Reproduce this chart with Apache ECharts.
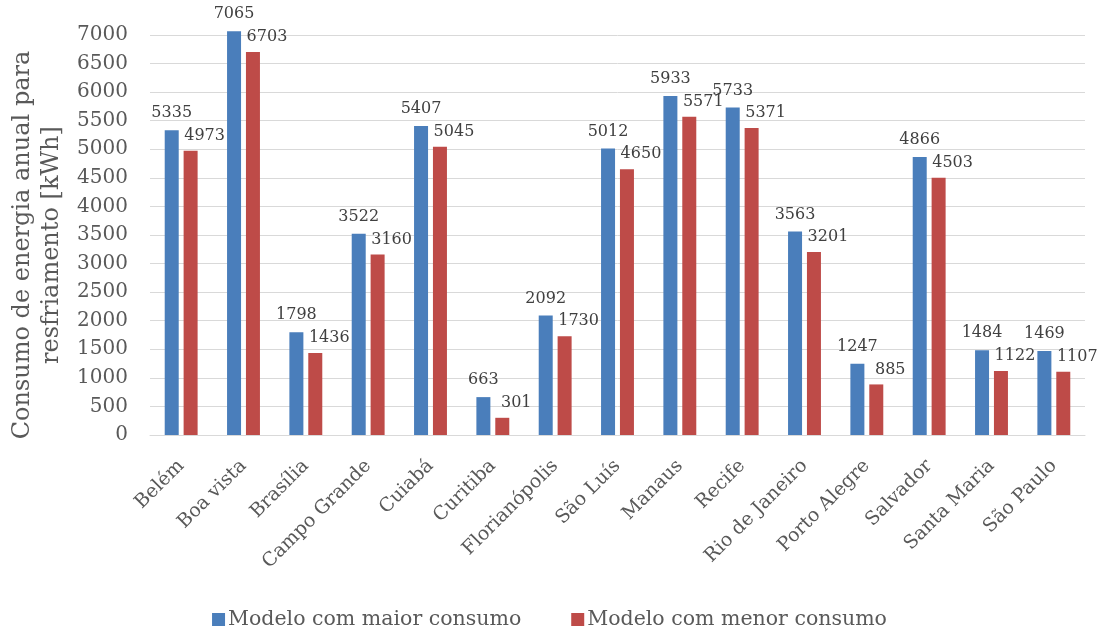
<!DOCTYPE html>
<html>
<head>
<meta charset="utf-8">
<script src="https://cdn.jsdelivr.net/npm/echarts@6/dist/echarts.min.js"></script>
<style>
  html, body { margin: 0; padding: 0; background: #fff; }
  #chart { width: 1099px; height: 631px; }
</style>
</head>
<body>
<div id="chart"></div>
<script>
const cidades = ['Belém', 'Boa vista', 'Brasília', 'Campo Grande', 'Cuiabá', 'Curitiba', 'Florianópolis',
  'São Luís', 'Manaus', 'Recife', 'Rio de Janeiro', 'Porto Alegre', 'Salvador', 'Santa Maria', 'São Paulo'];
const maiorConsumo = [5335, 7065, 1798, 3522, 5407, 663, 2092, 5012, 5933, 5733, 3563, 1247, 4866, 1484, 1469];
const menorConsumo = [4973, 6703, 1436, 3160, 5045, 301, 1730, 4650, 5571, 5371, 3201, 885, 4503, 1122, 1107];

const fonte = '"DejaVu Serif", "Liberation Serif", serif';
const corTexto = '#595959';

const chart = echarts.init(document.getElementById('chart'));

const options = {
  animation: false,
  textStyle: { fontFamily: fonte, color: corTexto },
  grid: {
    left: 150,
    right: 14,
    top: 35,
    bottom: 196,
    containLabel: false,
    outerBoundsMode: 'none'
  },
  legend: {
    top: 604,
    left: 'center',
    itemWidth: 13,
    itemHeight: 13,
    itemGap: 50,
    icon: 'rect',
    textStyle: { fontFamily: fonte, fontSize: 20.5, color: corTexto, padding: [0, 0, 0, -2] },
    data: ['Modelo com maior consumo', 'Modelo com menor consumo']
  },
  xAxis: {
    type: 'category',
    data: cidades,
    axisLine: { lineStyle: { color: '#d9d9d9', width: 1 } },
    axisTick: { show: false },
    axisLabel: {
      rotate: 45,
      interval: 0,
      margin: 28,
      fontFamily: fonte,
      fontSize: 19,
      color: corTexto
    }
  },
  yAxis: {
    type: 'value',
    min: 0,
    max: 7000,
    interval: 500,
    name: 'Consumo de energia anual para\nresfriamento [kWh]',
    nameLocation: 'middle',
    nameGap: 78,
    nameTextStyle: {
      fontFamily: fonte,
      fontSize: 24,
      color: corTexto,
      lineHeight: 29,
      padding: [0, 20, 0, 0]
    },
    axisLine: { show: false },
    axisTick: { show: false },
    splitLine: { lineStyle: { color: '#d9d9d9', width: 1 } },
    axisLabel: {
      fontFamily: fonte,
      fontSize: 20,
      color: corTexto,
      margin: 22,
      formatter: (v) => String(v)
    }
  },
  series: [
    {
      name: 'Modelo com maior consumo',
      type: 'bar',
      data: maiorConsumo,
      barWidth: 14,
      barGap: '35%',
      clip: false,
      itemStyle: { color: '#4a7ebb' },
      label: {
        show: true,
        position: 'top',
        distance: 9,
        fontFamily: fonte,
        fontSize: 16,
        color: '#404040'
      }
    },
    {
      name: 'Modelo com menor consumo',
      type: 'bar',
      data: menorConsumo,
      barWidth: 14,
      clip: false,
      itemStyle: { color: '#be4b48' },
      label: {
        show: true,
        position: 'top',
        distance: 7,
        offset: [14, 0],
        fontFamily: fonte,
        fontSize: 16,
        color: '#404040'
      }
    }
  ]
};

chart.setOption(options);
</script>
</body>
</html>
